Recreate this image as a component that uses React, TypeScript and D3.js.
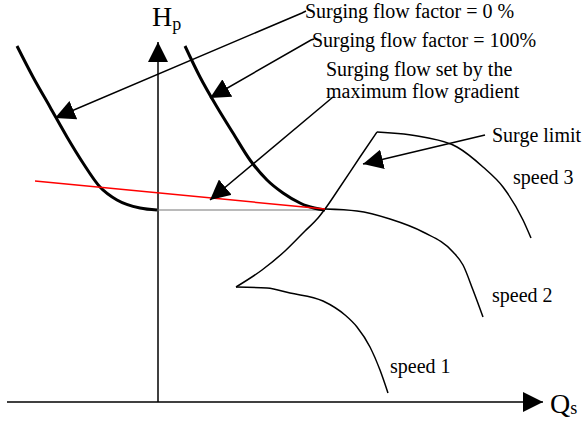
import React from "react";
import * as d3 from "d3";

// Compressor map sketch: head H_p versus flow Q_s (arbitrary units, origin at the axes crossing)
type Pt = [number, number];

const surgeFactorZero: Pt[] = [
  [-141, 356], [-125, 325], [-108, 295], [-91, 265], [-75, 239],
  [-58, 215], [-41, 202], [-18, 194], [-1, 192],
];

const surgeFactorFull: Pt[] = [
  [27, 356], [42, 325], [59, 295], [75, 269], [92, 242],
  [109, 222], [125, 209], [142, 199], [149, 196], [167, 192],
];

const gradientLine: Pt[] = [[-123, 221], [167, 193]];
const setPointLine: Pt[] = [[0, 192], [167, 192]];

const surgeLimit: Pt[] = [
  [78, 115], [104, 132], [127, 151], [147, 171], [160, 184],
  [167, 193], [182, 215], [202, 245], [219, 270],
];

const speed1: Pt[] = [
  [78, 115], [109, 114], [132, 109], [165, 101], [187, 87],
  [199, 75], [212, 55], [222, 32], [230, 9],
];

const speed2: Pt[] = [
  [167, 193], [199, 191], [232, 183], [265, 170], [295, 150],
  [305, 137], [315, 112], [325, 85],
];

const speed3: Pt[] = [
  [219, 270], [265, 265], [299, 255], [325, 235], [345, 215],
  [365, 182], [373, 164],
];

// Leader lines: [label end, arrow tip]
const leaders: { from: Pt; hook: Pt; to: Pt }[] = [
  { from: [144, 389], hook: [148, 391], to: [-103, 284] },
  { from: [153, 362], hook: [156, 363], to: [52, 304] },
  { from: [175, 305], hook: [175, 305], to: [52, 202] },
  { from: [327, 267], hook: [327, 267], to: [205, 238] },
];

const labels: { text: string; at: Pt }[] = [
  { text: "Surging flow factor = 0 %", at: [147, 384] },
  { text: "Surging flow factor = 100%", at: [154, 355] },
  { text: "Surging flow set by the", at: [168, 326] },
  { text: "maximum flow gradient", at: [168, 304] },
  { text: "Surge limit", at: [334, 260] },
  { text: "speed 3", at: [355, 218] },
  { text: "speed 2", at: [334, 100] },
  { text: "speed 1", at: [232, 29] },
];

const qExtent: [number, number] = [-151, 385];
const hExtent: [number, number] = [0, 360];

export default function App() {
  const width = 583;
  const height = 421;
  const x = d3.scaleLinear().domain(qExtent).range([7, 543]);
  const y = d3.scaleLinear().domain(hExtent).range([402, 42]);

  const smooth = d3
    .line<Pt>()
    .x((d) => x(d[0]))
    .y((d) => y(d[1]))
    .curve(d3.curveMonotoneX);
  const straight = d3
    .line<Pt>()
    .x((d) => x(d[0]))
    .y((d) => y(d[1]));

  const font = "'Liberation Serif', 'Times New Roman', serif";

  return (
    <svg
      width={width}
      height={height}
      style={{ position: "absolute", left: 0, top: 0, background: "#fff" }}
      fontFamily={font}
    >
      <defs>
        <marker
          id="head"
          viewBox="0 0 20 20"
          refX="20"
          refY="10"
          markerWidth="20"
          markerHeight="20"
          markerUnits="userSpaceOnUse"
          orient="auto"
        >
          <path d="M0,0 L20,10 L0,20 Z" fill="#000" />
        </marker>
      </defs>

      {/* axes */}
      <line
        x1={x(qExtent[0])}
        y1={y(0)}
        x2={x(qExtent[1])}
        y2={y(0)}
        stroke="#000"
        strokeWidth={1.5}
        markerEnd="url(#head)"
      />
      <line
        x1={x(0)}
        y1={y(0)}
        x2={x(0)}
        y2={y(hExtent[1])}
        stroke="#000"
        strokeWidth={1.5}
        markerEnd="url(#head)"
      />

      {/* set point level */}
      <path d={straight(setPointLine) ?? ""} stroke="#777" strokeWidth={1.2} fill="none" />

      {/* speed lines and surge limit */}
      <path d={smooth(speed1) ?? ""} stroke="#000" strokeWidth={1.5} fill="none" />
      <path d={smooth(speed2) ?? ""} stroke="#000" strokeWidth={1.5} fill="none" />
      <path d={smooth(speed3) ?? ""} stroke="#000" strokeWidth={1.5} fill="none" />
      <path d={smooth(surgeLimit) ?? ""} stroke="#000" strokeWidth={1.5} fill="none" />

      {/* surging flow lines */}
      <path d={smooth(surgeFactorZero) ?? ""} stroke="#000" strokeWidth={3} fill="none" />
      <path d={smooth(surgeFactorFull) ?? ""} stroke="#000" strokeWidth={3} fill="none" />
      <path d={straight(gradientLine) ?? ""} stroke="#ff0000" strokeWidth={1.5} fill="none" />

      {/* leaders */}
      {leaders.map((l, i) => (
        <path
          key={i}
          d={straight([l.hook, l.from, l.to]) ?? ""}
          stroke="#000"
          strokeWidth={1.5}
          fill="none"
          markerEnd="url(#head)"
        />
      ))}

      {/* labels */}
      {labels.map((l, i) => (
        <text key={i} x={x(l.at[0])} y={y(l.at[1])} fontSize={20} fill="#000">
          {l.text}
        </text>
      ))}

      {/* axis titles */}
      <text x={152} y={26} fontSize={28} fill="#000">
        H
        <tspan fontSize={18} dy={4}>
          p
        </tspan>
      </text>
      <text x={550} y={413} fontSize={28} fill="#000">
        Q
        <tspan fontSize={18} dy={1}>
          s
        </tspan>
      </text>
    </svg>
  );
}
